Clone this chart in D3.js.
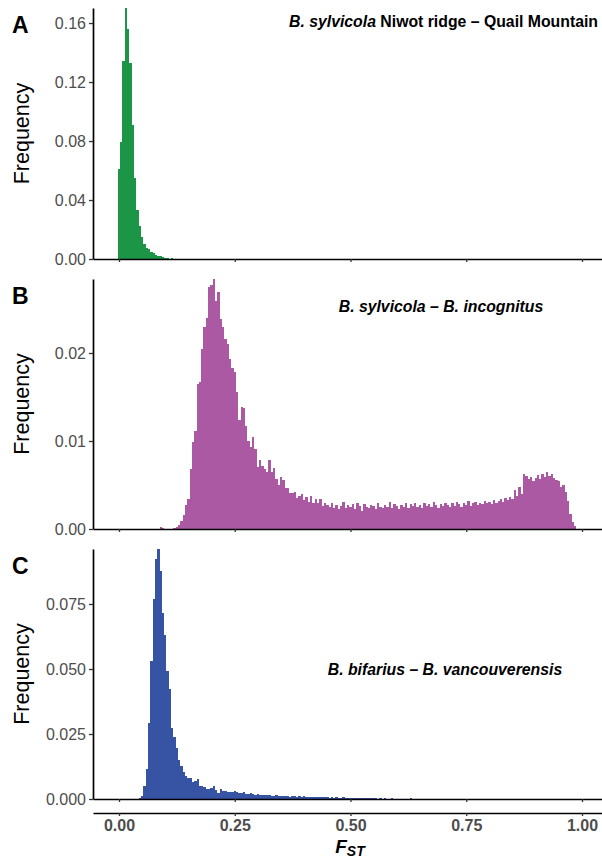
<!DOCTYPE html>
<html>
<head>
<meta charset="utf-8">
<script src="https://cdn.jsdelivr.net/npm/d3@7/dist/d3.min.js"></script>
<style>
  body { margin: 0; background: #fff; }
  svg { display: block; font-family: 'Liberation Sans', Arial, sans-serif; }
</style>
</head>
<body>
<svg id="chart" width="602" height="860"></svg>
<script>
/*
  FST HISTOGRAMS
  Three stacked panels sharing one FST axis (bin width 0.005)
*/

// bin width and x ticks shared by all panels
const binWidth = 0.005;
const xTicks = [0, 0.25, 0.5, 0.75, 1];

// Panel A: B. sylvicola Niwot ridge - Quail Mountain (first bin centre 0.000)
const startA = 0.0;
const freqA = [0.061, 0.079, 0.134, 0.170, 0.156, 0.133, 0.091, 0.055, 0.033, 0.0225,
  0.0148, 0.010, 0.0075, 0.0066, 0.0048, 0.0039, 0.0027, 0.0023, 0.002, 0.0016,
  0.001, 0.0007, 0, 0.0006];
const yTicksA = [0, 0.04, 0.08, 0.12, 0.16];

// Panel B: B. sylvicola - B. incognitus (first bin centre 0.090)
const startB = 0.09;
const freqB = [0.0002, 0.0001, 0.00005, 0.00005, 0.00005, 0.00005, 0.0001, 0.0002,
  0.00045, 0.00095, 0.0016, 0.0027, 0.0034, 0.0068, 0.0099, 0.0111, 0.0165, 0.0167,
  0.0205, 0.023, 0.024, 0.0275, 0.0277, 0.0284, 0.0259, 0.0269, 0.0239, 0.0229,
  0.0216, 0.021, 0.0193, 0.0183, 0.0178, 0.0156, 0.0124, 0.0139, 0.0138, 0.0117,
  0.0100, 0.0093, 0.0105, 0.0091, 0.0070, 0.0078, 0.0072, 0.0068, 0.0065, 0.0078,
  0.0065, 0.0069, 0.0057, 0.0050, 0.0059, 0.0056, 0.0047, 0.0047, 0.0041, 0.0041,
  0.0042, 0.0035, 0.0038, 0.0040, 0.0033, 0.0036, 0.0031, 0.0037, 0.0030, 0.0034,
  0.0029, 0.0034, 0.0026,
  0.0030, 0.0027, 0.0025, 0.0029, 0.0024, 0.0027, 0.0023, 0.0026, 0.0031, 0.0024,
  0.0027, 0.0025, 0.0028, 0.0023, 0.0029, 0.0026, 0.0021, 0.0028, 0.0025, 0.0024,
  0.0027, 0.0026, 0.0023, 0.0029, 0.0025, 0.0024, 0.0027, 0.0025, 0.0031, 0.0024,
  0.0028, 0.0026, 0.0023, 0.0027, 0.0025, 0.0030, 0.0024, 0.0028, 0.0026, 0.0029,
  0.0025, 0.0027, 0.0024, 0.0030, 0.0026, 0.0028, 0.0025, 0.0031, 0.0027, 0.0024,
  0.0028, 0.0026, 0.0030, 0.0027, 0.0025, 0.0029, 0.0026, 0.0031, 0.0028, 0.0025,
  0.0030, 0.0027, 0.0032, 0.0026, 0.0029, 0.0031, 0.0027, 0.0030, 0.0028, 0.0032,
  0.0029, 0.0031, 0.0028, 0.0033, 0.0030, 0.0032, 0.0034, 0.0031, 0.0035, 0.0033,
  0.0036, 0.0034, 0.0044, 0.0038, 0.0048, 0.0040, 0.0062, 0.0060, 0.0057, 0.0059,
  0.0055, 0.0058, 0.0061, 0.0057, 0.0062, 0.0059, 0.0065, 0.0060, 0.0062, 0.0058,
  0.0056, 0.0054, 0.0048, 0.0050, 0.0042, 0.0032, 0.0017, 0.0008, 0.0003];
const yTicksB = [0, 0.01, 0.02];

// Panel C: B. bifarius - B. vancouverensis (first bin centre 0.045)
const startC = 0.045;
const freqC = [0.0005, 0.0012, 0.005, 0.0115, 0.0293, 0.053, 0.077, 0.0924, 0.0962,
  0.0878, 0.0716, 0.0631, 0.0493, 0.0424, 0.0273, 0.0239, 0.0196, 0.015, 0.0127,
  0.0104, 0.0089, 0.0081, 0.0081, 0.0065, 0.0068, 0.0077, 0.005, 0.005, 0.0048,
  0.0038, 0.0038, 0.0042, 0.005, 0.0035, 0.0023, 0.0038, 0.003, 0.003, 0.0027,
  0.0027, 0.0027, 0.003, 0.0027, 0.0024, 0.0022, 0.0025, 0.0021, 0.0019, 0.0022,
  0.0018, 0.0017, 0.0019, 0.0016, 0.0015, 0.0017, 0.0014, 0.0016, 0.0013, 0.0012,
  0.0015, 0.0011, 0.0013, 0.0010, 0.0012, 0.0011, 0.0009, 0.0012, 0.0010, 0.0009,
  0.0011, 0.0008, 0.0010, 0.0009, 0.0008, 0.0007, 0.0009, 0.0008, 0.0006, 0.0008,
  0.0007, 0.0006, 0.0008, 0.0005, 0.0006, 0.0005, 0.0007, 0.0004, 0.0005, 0.0006,
  0.0004, 0.0005, 0.0003, 0.0004, 0.0005, 0.0003, 0.0004, 0.0003, 0.0002, 0.0004,
  0.0003, 0.0002, 0.0003, 0.0002, 0.0001, 0.0003, 0.0001, 0.0002, 0.0001, 0.0001,
  0.0002, 0.0001, 0, 0.0001, 0, 0.0001, 0, 0, 0.0002, 0, 0, 0, 0, 0, 0, 0, 0, 0,
  0.0001];
const yTicksC = [0, 0.025, 0.05, 0.075];

/**
 * Panel set-up: vertical placement, y extent, colours and titles
 */
const panels = [
  { letter: 'A', start: startA, freq: freqA, ticks: yTicksA, fmt: '.2f', yMax: 0.1702,
    top: 8, bottom: 259, color: '#1d9547' },
  { letter: 'B', start: startB, freq: freqB, ticks: yTicksB, fmt: '.2f', yMax: 0.02841,
    top: 279, bottom: 529, color: '#ac59a3' },
  { letter: 'C', start: startC, freq: freqC, ticks: yTicksC, fmt: '.3f', yMax: 0.09615,
    top: 549, bottom: 799, color: '#3753a4' }
];

const margin = { left: 93, right: 602 };
const svg = d3.select('#chart');

svg.append('rect').attr('width', 602).attr('height', 860).attr('fill', '#fff');

// shared x scale: 0 sits at 119px and 1 at 582px, axis runs to the page edge
const x = d3.scaleLinear()
  .domain([(margin.left - 119) / 463, (margin.right - 119) / 463])
  .range([margin.left, margin.right]);

function styleAxis(g) {
  g.select('.domain').attr('stroke', '#000').attr('stroke-width', 1.7);
  g.selectAll('.tick line').attr('stroke', '#333').attr('stroke-width', 1.3);
}

panels.forEach(p => {
  const y = d3.scaleLinear().domain([0, p.yMax]).range([p.bottom, p.top]);
  const g = svg.append('g');

  // bars
  g.append('g')
    .attr('shape-rendering', 'crispEdges')
    .selectAll('rect')
    .data(p.freq.map((v, i) => ({ c: p.start + i * binWidth, v })).filter(d => d.v > 0))
    .join('rect')
    .attr('x', d => x(d.c - binWidth / 2))
    .attr('width', d => x(d.c + binWidth / 2) - x(d.c - binWidth / 2))
    .attr('y', d => y(d.v))
    .attr('height', d => p.bottom - y(d.v))
    .attr('fill', p.color);

  // y axis
  g.append('g')
    .attr('transform', `translate(${margin.left},0)`)
    .call(d3.axisLeft(y).tickValues(p.ticks).tickFormat(d3.format(p.fmt))
      .tickSize(4).tickSizeOuter(0).tickPadding(3))
    .call(styleAxis)
    .selectAll('.tick text')
    .attr('fill', '#4d4d4d')
    .attr('font-size', 16)
    .attr('font-family', "'Liberation Sans', Arial, sans-serif");

  // x axis for the panel, no labels
  g.append('g')
    .attr('transform', `translate(0,${p.bottom})`)
    .call(d3.axisBottom(x).tickValues(xTicks).tickFormat('')
      .tickSize(3).tickSizeOuter(0))
    .call(styleAxis);

  // panel letter
  g.append('text')
    .attr('x', 12).attr('y', p.top + 25)
    .attr('font-size', 23).attr('font-weight', 'bold')
    .text(p.letter);

  // y title
  g.append('text')
    .attr('transform', `translate(29,${(p.top + p.bottom) / 2}) rotate(-90)`)
    .attr('text-anchor', 'middle')
    .attr('font-size', 21.5)
    .text('Frequency');
});

/**
 * Panel titles (species in italics)
 */
const titleA = svg.append('text')
  .attr('x', 598).attr('y', 27)
  .attr('text-anchor', 'end')
  .attr('font-size', 15.8).attr('font-weight', 'bold');
titleA.append('tspan').attr('font-style', 'italic').text('B. sylvicola');
titleA.append('tspan').text(' Niwot ridge \u2013 Quail Mountain');

svg.append('text')
  .attr('x', 441).attr('y', 312)
  .attr('text-anchor', 'middle')
  .attr('font-size', 15.8).attr('font-weight', 'bold').attr('font-style', 'italic')
  .text('B. sylvicola \u2013 B. incognitus');

svg.append('text')
  .attr('x', 445).attr('y', 675)
  .attr('text-anchor', 'middle')
  .attr('font-size', 15.8).attr('font-weight', 'bold').attr('font-style', 'italic')
  .text('B. bifarius \u2013 B. vancouverensis');

/**
 * Shared bottom axis with FST labels
 */
const xAxis = svg.append('g')
  .attr('transform', 'translate(0,813)')
  .call(d3.axisBottom(x).tickValues(xTicks).tickFormat(d3.format('.2f'))
    .tickSize(3).tickSizeOuter(0).tickPadding(4))
  .call(styleAxis);

xAxis.selectAll('.tick text')
  .attr('fill', '#4d4d4d')
  .attr('font-size', 16)
  .attr('font-weight', 'bold')
  .attr('font-family', "'Liberation Sans', Arial, sans-serif");

const fst = svg.append('text')
  .attr('x', 350).attr('y', 853)
  .attr('text-anchor', 'middle')
  .attr('font-weight', 'bold').attr('font-style', 'italic');
fst.append('tspan').attr('font-size', 19).text('F');
fst.append('tspan').attr('font-size', 14).attr('dy', 3).text('ST');
</script>
</body>
</html>
